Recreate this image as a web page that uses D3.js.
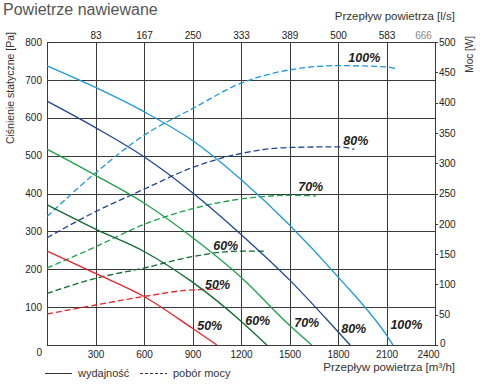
<!DOCTYPE html>
<html>
<head>
<meta charset="utf-8">
<script src="https://cdn.jsdelivr.net/npm/d3@7"></script>
<style>
  html, body { margin: 0; padding: 0; background: #fff; }
  svg { display: block; font-family: "Liberation Sans", Arial, sans-serif; }
</style>
</head>
<body>
<svg id="chart" width="480" height="390"></svg>
<script>
// ---------------- data ----------------
const flowTicks = [300, 600, 900, 1200, 1500, 1800, 2100, 2400];
const lsTickLabels = ["83", "167", "250", "333", "389", "500", "583", "666"];
const pressureTicks = [0, 100, 200, 300, 400, 500, 600, 700, 800];
const powerTicks = [0, 50, 100, 150, 200, 250, 300, 350, 400, 450, 500];

const speedLabels = ["100%", "80%", "70%", "60%", "50%"];
const speedColors = ["#1b9ad9", "#1f4596", "#1ca24b", "#0e6a2f", "#e8232b"];

// performance curves: [flow m3/h, static pressure Pa]
const perf100 = [[0,737],[300,680],[600,616],[900,540],[1200,437],[1500,317],[1800,180],[2100,26],[2140,0]];
const perf80  = [[0,644],[300,574],[600,497],[900,402],[1200,292],[1500,172],[1800,35],[1875,0]];
const perf70  = [[0,517],[300,448],[600,375],[900,284],[1200,179],[1500,52],[1637,0]];
const perf60  = [[0,370],[300,306],[600,247],[900,166],[1200,63],[1360,0]];
const perf50  = [[0,248],[300,189],[600,128],[900,44],[1050,0]];

// power curves: [flow m3/h, power W]
const power100 = [[0,212],[300,284],[600,346],[900,390],[1200,432],[1500,454],[1800,461],[2100,459],[2165,455]];
const power80  = [[0,177],[300,220],[600,257],[900,293],[1200,316],[1500,326],[1800,327],[1900,323]];
const power70  = [[0,127],[300,162],[600,199],[900,225],[1200,241],[1500,247],[1665,246]];
const power60  = [[0,85],[300,110],[600,127],[900,146],[1200,155],[1350,155]];
const power50  = [[0,51],[300,66],[600,80],[900,91],[1070,92]];

// label anchors (data units): [flow, value]
const perfLabelAt  = [[2124,41],[1820,32],[1529,48],[1226,53],[929,40]];
const powerLabelAt = [[1864,467],[1833,330],[1554,254],[1028,157],[978,92]];

const perfCurves = [perf100, perf80, perf70, perf60, perf50];
const powerCurves = [power100, power80, power70, power60, power50];

// ---------------- layout ----------------
const svg = d3.select("#chart");
const L = 47, R = 435, T = 42, B = 345;

const x = d3.scaleLinear().domain([0, 2400]).range([L, R]);
const yP = d3.scaleLinear().domain([0, 800]).range([B, T]);
const yW = d3.scaleLinear().domain([0, 500]).range([B, T]);

// title
svg.append("text").attr("x", 3).attr("y", 15)
  .attr("font-size", 16).attr("fill", "#555")
  .text("Powietrze nawiewane");

// grid
const grid = svg.append("g").attr("stroke", "#3a3a3a").attr("stroke-width", 1).attr("shape-rendering", "crispEdges");
grid.selectAll("line.v").data(flowTicks.slice(0, -1)).join("line")
  .attr("x1", d => Math.round(x(d)) + 0.5).attr("x2", d => Math.round(x(d)) + 0.5)
  .attr("y1", T).attr("y2", B);
grid.selectAll("line.h").data(pressureTicks.slice(1, -1)).join("line")
  .attr("class", "h")
  .attr("x1", L).attr("x2", R)
  .attr("y1", d => Math.round(yP(d)) + 0.5).attr("y2", d => Math.round(yP(d)) + 0.5);
svg.append("rect").attr("x", L + 0.5).attr("y", T + 0.5)
  .attr("width", R - L).attr("height", B - T)
  .attr("fill", "none").attr("stroke", "#3a3a3a").attr("shape-rendering", "crispEdges");

// axes
const fmt = d3.format("d");
function styleAxis(g) {
  g.select(".domain").remove();
  g.selectAll("text").attr("font-family", "Liberation Sans, Arial, sans-serif").attr("fill", "#222");
}
const axLeft = svg.append("g").attr("transform", `translate(${L},0)`)
  .call(d3.axisLeft(yP).tickValues(pressureTicks).tickSize(0).tickPadding(5).tickFormat(fmt))
  .attr("font-size", 10);
styleAxis(axLeft);
axLeft.selectAll(".tick").filter(d => d === 0).select("text").attr("dy", "1.0em");

const axBottom = svg.append("g").attr("transform", `translate(0,${B})`)
  .call(d3.axisBottom(x).tickValues(flowTicks).tickSize(0).tickPadding(5.5).tickFormat(fmt))
  .attr("font-size", 10);
styleAxis(axBottom);
axBottom.selectAll(".tick").filter(d => d === 2400).select("text").attr("dx", -7);

const axTop = svg.append("g").attr("transform", `translate(0,${T})`)
  .call(d3.axisTop(x).tickValues(flowTicks).tickSize(0).tickPadding(3)
    .tickFormat((d, i) => lsTickLabels[i]))
  .attr("font-size", 10);
styleAxis(axTop);
axTop.selectAll(".tick").filter(d => d === 2400).select("text").attr("dx", -12).attr("fill", "#888");

const axRight = svg.append("g").attr("transform", `translate(${R},0)`)
  .call(d3.axisRight(yW).tickValues(powerTicks).tickSize(3).tickPadding(1).tickFormat(fmt))
  .attr("font-size", 10);
styleAxis(axRight);
axRight.selectAll(".tick line").attr("stroke", "#3a3a3a").attr("shape-rendering", "crispEdges");
axRight.selectAll(".tick").filter(d => d === 0).select("text").attr("dy", "0.1em").attr("dx", 1);

// axis titles
svg.append("text").attr("transform", "translate(13.5,32) rotate(-90)")
  .attr("text-anchor", "end").attr("font-size", 10.5).attr("fill", "#333")
  .text("Ciśnienie statyczne [Pa]");
svg.append("text").attr("transform", "translate(473,36) rotate(-90)")
  .attr("text-anchor", "end").attr("font-size", 10).attr("fill", "#333")
  .text("Moc [W]");
svg.append("text").attr("x", 455).attr("y", 20).attr("text-anchor", "end")
  .attr("font-size", 11.5).attr("fill", "#333")
  .text("Przepływ powietrza [l/s]");
svg.append("text").attr("x", 455).attr("y", 371).attr("text-anchor", "end")
  .attr("font-size", 11.5).attr("fill", "#333")
  .text("Przepływ powietrza [m³/h]");

// curves
const linePerf = d3.line().x(d => x(d[0])).y(d => yP(d[1])).curve(d3.curveMonotoneX);
const linePow = d3.line().x(d => x(d[0])).y(d => yW(d[1])).curve(d3.curveMonotoneX);

svg.append("g").selectAll("path").data(powerCurves).join("path")
  .attr("d", linePow).attr("fill", "none")
  .attr("stroke", (d, i) => speedColors[i]).attr("stroke-width", 1.3)
  .attr("stroke-dasharray", "6,3");
svg.append("g").selectAll("path").data(perfCurves).join("path")
  .attr("d", linePerf).attr("fill", "none")
  .attr("stroke", (d, i) => speedColors[i]).attr("stroke-width", 1.3);

// curve labels
const lbl = svg.append("g").attr("font-size", 12.5).attr("font-weight", "bold")
  .attr("font-style", "italic").attr("fill", "#222");
lbl.selectAll("text.p").data(perfLabelAt).join("text").attr("class", "p")
  .attr("x", d => x(d[0])).attr("y", d => yP(d[1])).text((d, i) => speedLabels[i]);
lbl.selectAll("text.w").data(powerLabelAt).join("text").attr("class", "w")
  .attr("x", d => x(d[0])).attr("y", d => yW(d[1])).text((d, i) => speedLabels[i]);

// legend
const leg = svg.append("g");
leg.append("line").attr("x1", 45).attr("x2", 72).attr("y1", 373.5).attr("y2", 373.5)
  .attr("stroke", "#333").attr("stroke-width", 1);
leg.append("text").attr("x", 78).attr("y", 377).attr("font-size", 11).attr("fill", "#333").text("wydajność");
leg.append("line").attr("x1", 140).attr("x2", 167).attr("y1", 373.5).attr("y2", 373.5)
  .attr("stroke", "#333").attr("stroke-width", 1).attr("stroke-dasharray", "3,2");
leg.append("text").attr("x", 173).attr("y", 377).attr("font-size", 11).attr("fill", "#333").text("pobór mocy");
</script>
</body>
</html>
